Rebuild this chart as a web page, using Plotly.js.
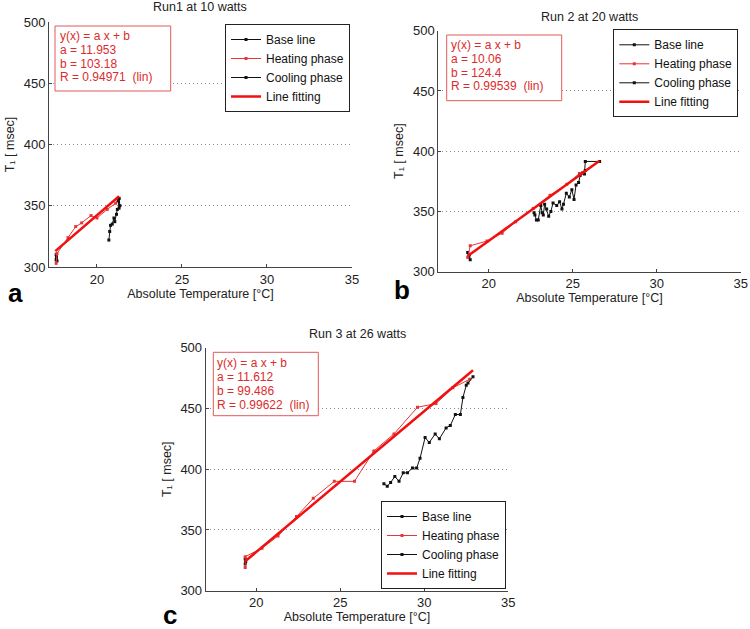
<!DOCTYPE html>
<html>
<head>
<meta charset="utf-8">
<script src="https://cdn.plot.ly/plotly-3.0.1.min.js"></script>
<style>html,body{margin:0;padding:0;background:#fff;}#chart{width:750px;height:629px;}</style>
</head>
<body>
<div id="chart"></div>
<script>
// ---------- data ----------
const panelTitles = ['Run1 at 10 watts', 'Run 2 at 20 watts', 'Run 3 at 26 watts'];
const panelLetters = ['a', 'b', 'c'];
const seriesNames = ['Base line', 'Heating phase', 'Cooling phase', 'Line fitting'];
const xTitle = 'Absolute Temperature [\u00b0C]';
const yTitle = 'T\u2081 [ msec]';
const xTickVals = [20, 25, 30, 35];
const yTickVals = [300, 350, 400, 450, 500];

// Run 1
const baseA_x = [17.6, 17.6, 17.62, 17.65];
const baseA_y = [310, 306, 308, 305];
const heatA_x = [17.6, 17.65, 18.3, 18.75, 19.1, 19.65, 20.0, 20.6, 21.1, 21.3];
const heatA_y = [303, 311, 324, 333, 336, 342, 340, 347, 352, 356];
const coolA_x = [21.3, 21.35, 21.25, 21.3, 21.2, 21.15, 21.05, 21.0, 20.9, 20.8, 20.75, 20.7];
const coolA_y = [356, 350, 354, 348, 347, 343, 337, 340, 335, 334, 329, 322];
const fitA_x = [17.55, 21.3];
const fitA_y = [313.0, 357.8];

// Run 2
const baseB_x = [18.75, 18.8, 18.85, 18.9];
const baseB_y = [316, 312, 314, 310];
const heatB_x = [18.75, 18.9, 19.9, 20.8, 21.6, 22.65, 23.65, 24.65, 25.4, 26.6];
const heatB_y = [312, 321.5, 325.5, 332, 341.5, 352.5, 363.5, 372.5, 381.5, 391.5];
const coolB_x = [26.6, 25.75, 25.7, 25.75, 25.6, 25.45, 25.35, 25.2, 25.08, 24.95, 24.8, 24.62, 24.45, 24.36, 24.22, 24.05, 23.83, 23.7, 23.57, 23.45, 23.33, 23.25, 23.18, 23.1, 22.95, 22.84, 22.75, 22.7];
const coolB_y = [391.5, 391.5, 381, 384, 382, 380, 374, 372, 360, 368, 362, 365, 356, 352, 358, 355, 357, 350, 346, 352, 356, 347, 349, 355, 343, 343, 347, 349];
const fitB_x = [18.75, 26.6];
const fitB_y = [313.0, 392.0];

// Run 3
const baseC_x = [19.35, 19.35, 19.38];
const baseC_y = [322, 326, 324];
const heatC_x = [19.35, 19.35, 20.35, 21.3, 22.4, 23.4, 24.65, 25.85, 27.0, 28.2, 29.6, 30.7, 31.7, 32.7];
const heatC_y = [319, 328, 335, 345, 361, 376, 390, 390, 415, 429, 451, 454, 467, 474];
const coolC_x = [32.9, 32.6, 32.5, 32.3, 32.15, 31.85, 31.55, 31.3, 30.9, 30.65, 30.3, 30.05, 29.75, 29.55, 29.3, 29.0, 28.75, 28.5, 28.25, 28.0, 27.8, 27.6];
const coolC_y = [476, 471, 469, 459, 445, 445, 436, 434, 425, 429, 422, 426, 409, 401, 401, 397, 397, 390, 394, 389, 386, 388];
const fitC_x = [19.35, 32.9];
const fitC_y = [324.2, 481.5];

// fit parameters shown in the boxes
const fitA = ['11.953', '10.06', '11.612'];
const fitB = ['103.18', '124.4', '99.486'];
const fitR = ['0.94971', '0.99539', '0.99622'];

// ---------- styling ----------
const W = 750, H = 629;
const FONT = 'Liberation Sans, Arial, Helvetica, sans-serif';
const BLACK = '#111';
const RED_THIN = '#e8343a';
const RED_FIT = '#f01010';
const TXT_RED = '#dc2b2b';

const panels = [
  {base:[baseA_x, baseA_y], heat:[heatA_x, heatA_y], cool:[coolA_x, coolA_y], fit:[fitA_x, fitA_y]},
  {base:[baseB_x, baseB_y], heat:[heatB_x, heatB_y], cool:[coolB_x, coolB_y], fit:[fitB_x, fitB_y]},
  {base:[baseC_x, baseC_y], heat:[heatC_x, heatC_y], cool:[coolC_x, coolC_y], fit:[fitC_x, fitC_y]}
];

// plot areas in pixels: [left, right, top, bottom]
const boxesPx = [
  [49, 352, 22, 267],
  [438.3, 740.7, 30.7, 271.7],
  [205.7, 508.3, 347.7, 590.7]
];
const xRanges = [[17.18, 35], [17, 35], [17, 35]];

const traces = [];
const legendIds = ['legend', 'legend2', 'legend3'];
panels.forEach((p, i) => {
  const xa = i === 0 ? 'x' : 'x' + (i + 1);
  const ya = i === 0 ? 'y' : 'y' + (i + 1);
  const lg = legendIds[i];
  traces.push({x: p.base[0], y: p.base[1], xaxis: xa, yaxis: ya, legend: lg, name: seriesNames[0],
    mode: 'lines+markers', line: {color: BLACK, width: 1}, marker: {symbol: 'square', size: 3, color: BLACK}});
  traces.push({x: p.heat[0], y: p.heat[1], xaxis: xa, yaxis: ya, legend: lg, name: seriesNames[1],
    mode: 'lines+markers', line: {color: RED_THIN, width: 1}, marker: {symbol: 'square', size: 3, color: RED_THIN}});
  traces.push({x: p.cool[0], y: p.cool[1], xaxis: xa, yaxis: ya, legend: lg, name: seriesNames[2],
    mode: 'lines+markers', line: {color: BLACK, width: 1}, marker: {symbol: 'square', size: 3, color: BLACK}});
  traces.push({x: p.fit[0], y: p.fit[1], xaxis: xa, yaxis: ya, legend: lg, name: seriesNames[3],
    mode: 'lines', line: {color: RED_FIT, width: 2.5}});
});

const layout = {
  width: W, height: H,
  margin: {l: 0, r: 0, t: 0, b: 0},
  paper_bgcolor: '#fff', plot_bgcolor: '#fff',
  font: {family: FONT, size: 13, color: '#222'},
  showlegend: true,
  annotations: [],
  shapes: []
};

boxesPx.forEach((b, i) => {
  const sfx = i === 0 ? '' : String(i + 1);
  const xa = 'x' + sfx, ya = 'y' + sfx;
  layout['xaxis' + sfx] = {
    domain: [b[0] / W, b[1] / W], range: xRanges[i], anchor: ya,
    showline: true, linecolor: '#444', linewidth: 1, mirror: false,
    ticks: 'inside', ticklen: 3, tickcolor: '#444', tickvals: xTickVals,
    showgrid: false, zeroline: false,
    tickfont: {size: 13, color: '#222'},
    title: {text: xTitle, font: {size: 12.5, color: '#222'}, standoff: 1}
  };
  layout['yaxis' + sfx] = {
    domain: [1 - b[3] / H, 1 - b[2] / H], range: [300, 500], anchor: xa,
    showline: true, linecolor: '#444', linewidth: 1,
    ticks: 'inside', ticklen: 3, tickcolor: '#444', tickvals: yTickVals,
    showgrid: true, gridcolor: '#8a8a8a', griddash: '1px,3px', gridwidth: 1, zeroline: false,
    tickfont: {size: 13, color: '#222'},
    title: {text: yTitle, font: {size: 12.5, color: '#222'}, standoff: 6}
  };
});

// legends
const legendBase = {bordercolor: '#222', borderwidth: 1, bgcolor: '#fff', font: {size: 12, color: '#111'}, itemwidth: 30, tracegroupgap: 0};
layout.legend = Object.assign({x: 350 / W, xanchor: 'right', y: 1 - 24 / H, yanchor: 'top'}, legendBase);
layout.legend2 = Object.assign({x: 738.3 / W, xanchor: 'right', y: 1 - 29.3 / H, yanchor: 'top'}, legendBase);
layout.legend3 = Object.assign({x: 506 / W, xanchor: 'right', y: 1 - 589 / H, yanchor: 'bottom'}, legendBase);

// titles
const titlePos = [[200.5, 7.5], [589.5, 16.7], [357, 334]];
titlePos.forEach((t, i) => {
  layout.annotations.push({text: panelTitles[i], xref: 'paper', yref: 'paper', x: t[0] / W, y: 1 - t[1] / H,
    xanchor: 'center', yanchor: 'middle', showarrow: false, font: {size: 12.5, color: '#222'}});
});

// fit boxes: [left, top, right, bottom, text-left, first line centre]
const fitBoxPx = [
  [55, 26, 170.7, 91, 57.5, 36],
  [446.7, 35, 561.7, 100.7, 449, 45],
  [213.3, 352.3, 318.3, 415.7, 215, 363.3]
];
const lineStep = 13.8;
fitBoxPx.forEach((f, i) => {
  layout.shapes.push({type: 'rect', xref: 'paper', yref: 'paper',
    x0: f[0] / W, x1: f[2] / W, y0: 1 - f[3] / H, y1: 1 - f[1] / H,
    line: {color: '#e25a5a', width: 1}, fillcolor: 'rgba(255,255,255,1)', layer: 'above'});
  const lines = ['y(x) = a x + b', 'a = ' + fitA[i], 'b = ' + fitB[i], 'R = ' + fitR[i] + '\u00a0\u00a0(lin)'];
  lines.forEach((t, k) => {
    layout.annotations.push({text: t, xref: 'paper', yref: 'paper',
      x: f[4] / W, y: 1 - (f[5] + k * lineStep) / H, xanchor: 'left', yanchor: 'middle',
      showarrow: false, font: {size: 12, color: TXT_RED}});
  });
});

// panel letters
const letterPos = [[15, 293], [402, 290], [170, 615]];
letterPos.forEach((l, i) => {
  layout.annotations.push({text: '<b>' + panelLetters[i] + '</b>', xref: 'paper', yref: 'paper',
    x: l[0] / W, y: 1 - l[1] / H, xanchor: 'center', yanchor: 'middle', showarrow: false,
    font: {size: 26, color: '#000'}});
});

Plotly.newPlot('chart', traces, layout, {staticPlot: true, displayModeBar: false});
</script>
</body>
</html>
